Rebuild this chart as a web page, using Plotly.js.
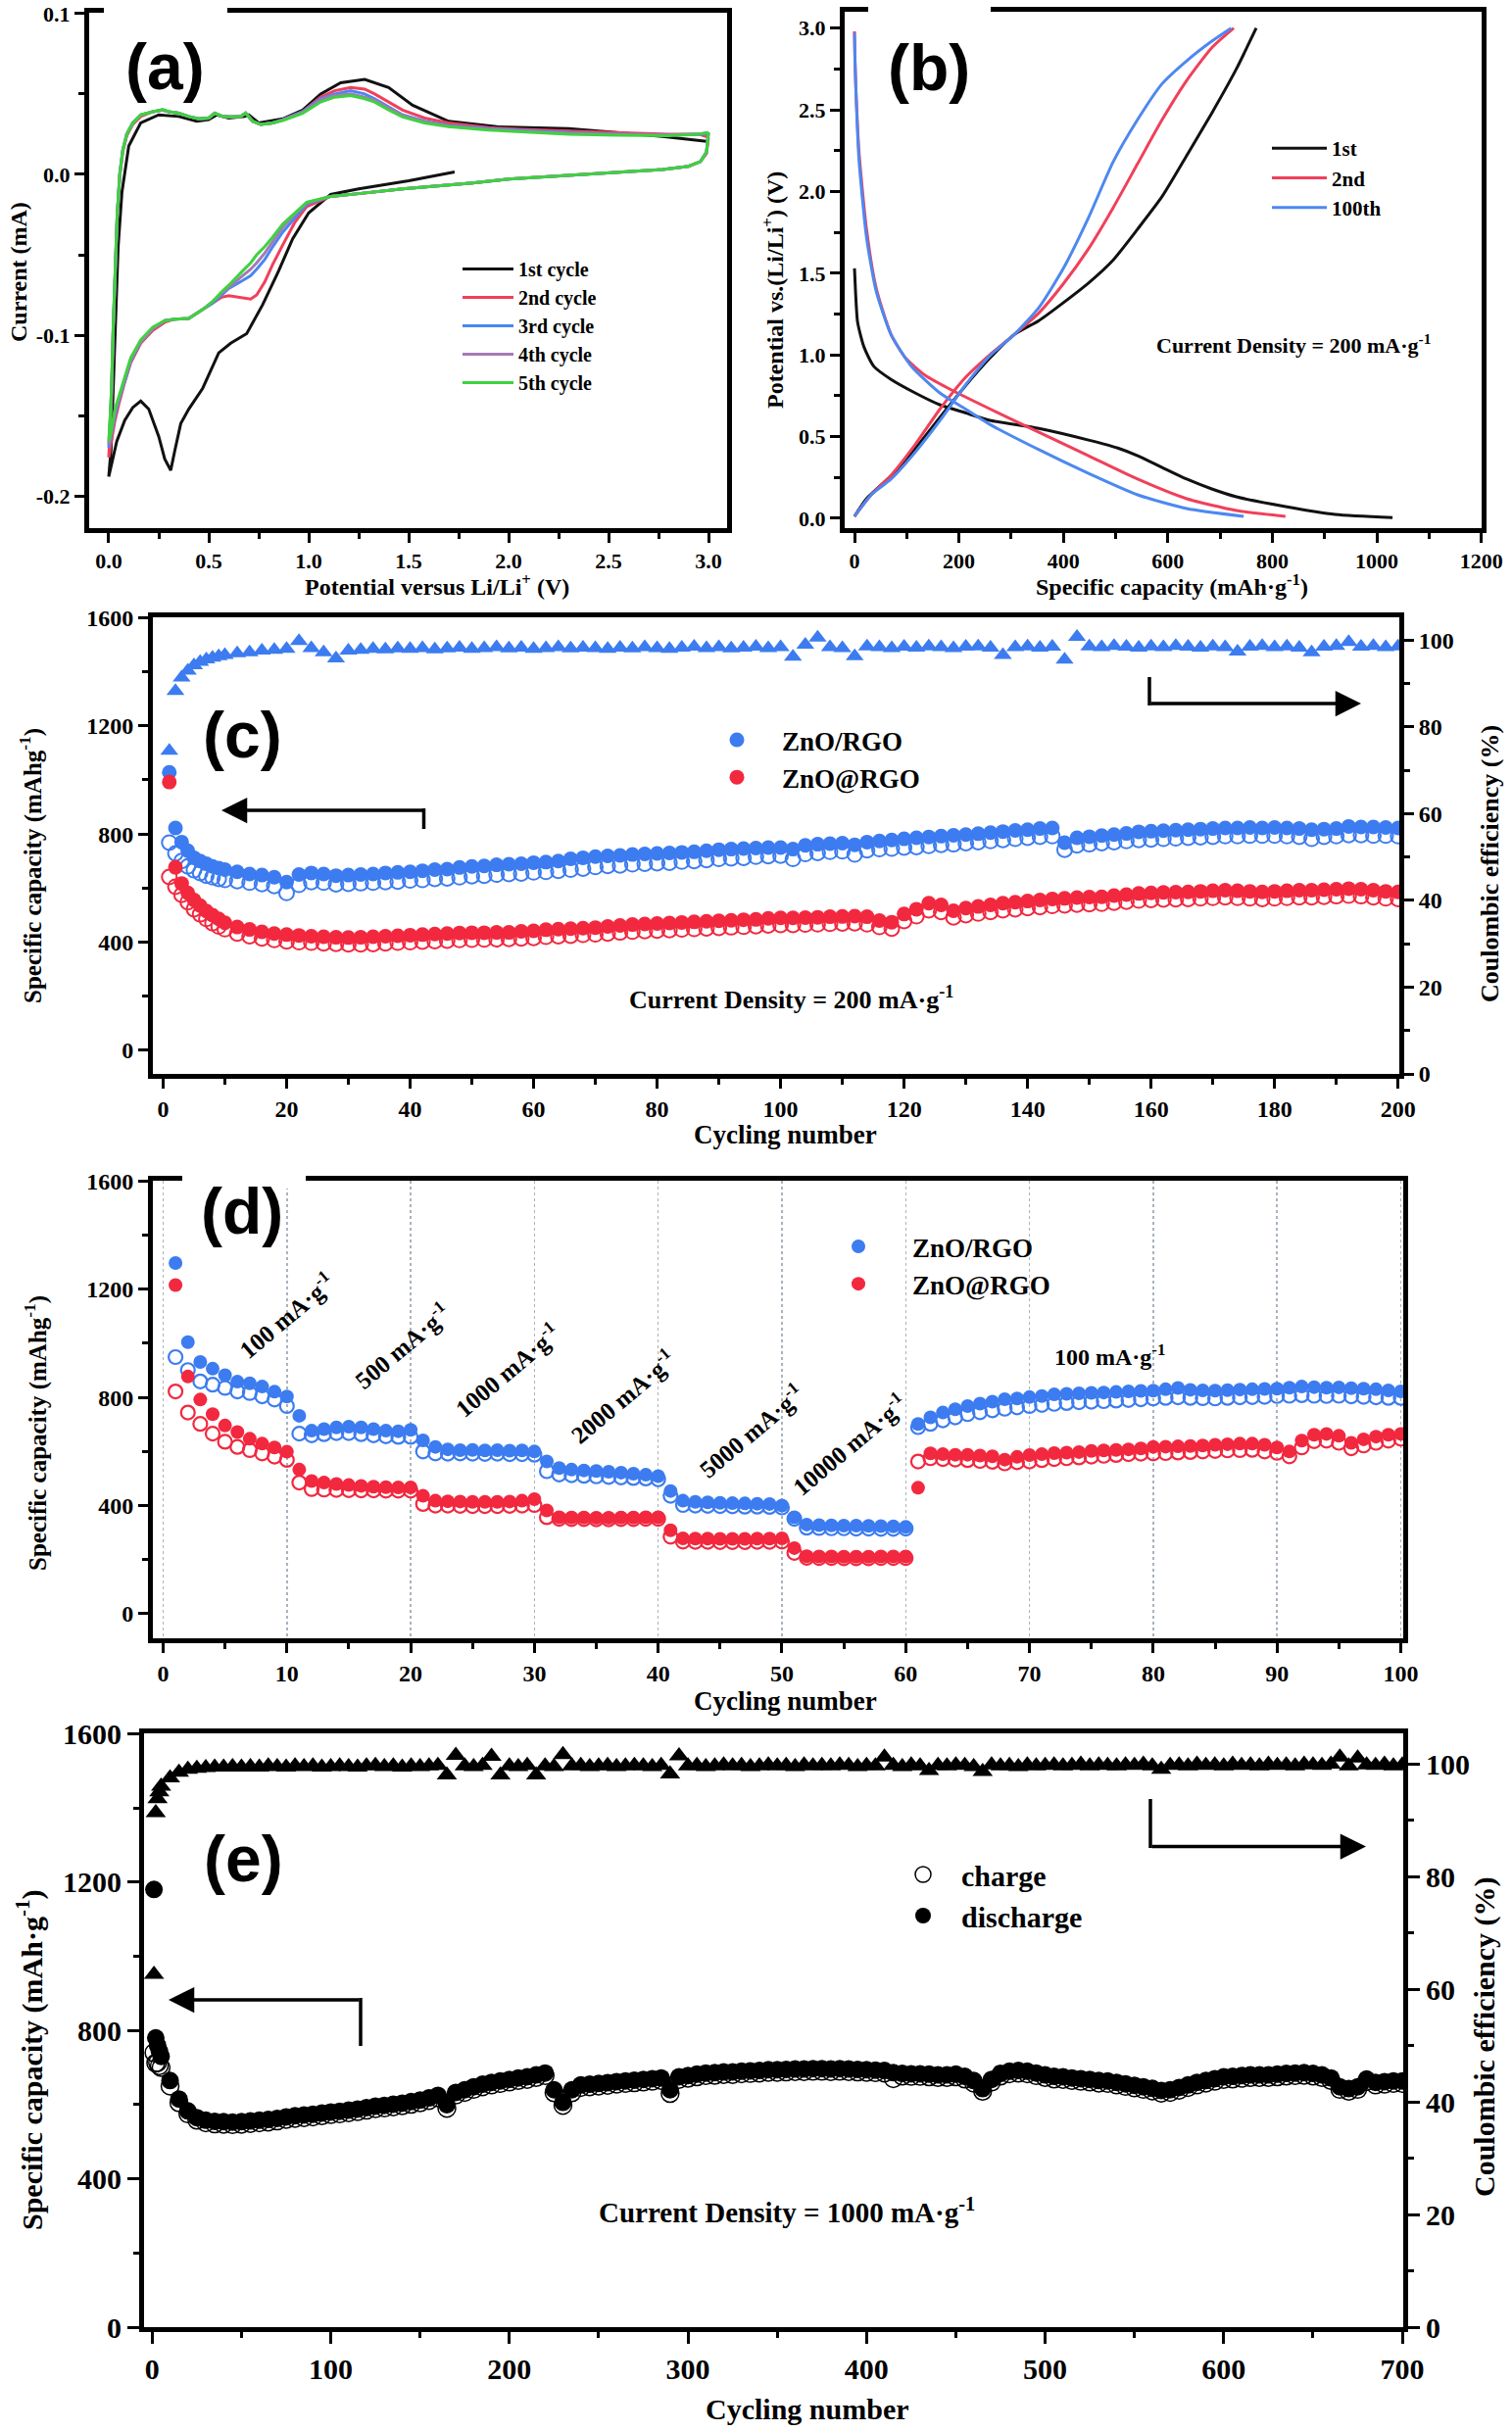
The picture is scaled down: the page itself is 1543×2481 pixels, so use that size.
<!DOCTYPE html>
<html><head><meta charset="utf-8">
<script src="https://cdn.plot.ly/plotly-3.0.1.min.js"></script>
<style>html,body{margin:0;padding:0;background:#fff}#chart{width:1543px;height:2481px}</style>
</head><body><div id="chart"></div>
<script>
// ---------------- Panel (a): cyclic voltammetry ----------------
const cv1X = [1.73,1.50,1.25,1.11,1.00,0.92,0.85,0.77,0.69,0.61,0.55,0.47,0.40,0.36,0.33,0.31,0.28,0.25,0.20,0.16,0.12,0.08,0.04,0.015,0.0,
  0.012,0.025,0.035,0.047,0.066,0.10,0.16,0.25,0.35,0.44,0.50,0.54,0.60,0.68,0.70,0.75,0.87,0.97,1.06,1.16,1.28,1.40,1.52,1.70,1.94,2.30,2.54,2.77,2.99];
const cv1Y = [0.0015,-0.004,-0.009,-0.0125,-0.024,-0.040,-0.060,-0.081,-0.099,-0.105,-0.111,-0.133,-0.146,-0.155,-0.172,-0.184,-0.177,-0.163,-0.146,-0.141,-0.145,-0.153,-0.166,-0.180,-0.188,
  -0.170,-0.120,-0.080,-0.045,-0.011,0.0176,0.032,0.037,0.036,0.033,0.034,0.037,0.035,0.036,0.037,0.032,0.0345,0.040,0.050,0.057,0.059,0.054,0.043,0.033,0.0296,0.0284,0.026,0.0236,0.0205];
const cvX = [3.0,2.99,2.96,2.90,2.77,2.50,2.30,2.00,1.82,1.47,1.25,1.11,0.99,0.93,0.87,0.82,0.78,0.74,0.71,0.67,0.64,0.60,0.565,0.52,0.47,0.40,0.33,0.28,0.22,0.16,0.11,0.078,0.05,0.031,0.01,0.0,
  0.007,0.014,0.022,0.031,0.042,0.055,0.07,0.09,0.12,0.16,0.22,0.27,0.30,0.35,0.40,0.45,0.50,0.53,0.57,0.61,0.66,0.685,0.72,0.76,0.82,0.87,0.97,1.06,1.13,1.21,1.28,1.33,1.40,1.47,1.58,1.70,1.90,2.06,2.30,2.54,2.80,2.95,3.0];
const cv2Y = [0.023,0.013,0.008,0.005,0.003,0.001,-0.0005,-0.003,-0.0053,-0.009,-0.012,-0.0137,-0.020,-0.030,-0.044,-0.056,-0.067,-0.075,-0.0776,-0.077,-0.0765,-0.0755,-0.0764,-0.080,-0.0836,-0.0896,-0.090,-0.092,-0.097,-0.105,-0.117,-0.130,-0.143,-0.153,-0.168,-0.176,
  -0.158,-0.138,-0.098,-0.062,-0.027,-0.001,0.014,0.024,0.031,0.036,0.039,0.040,0.039,0.038,0.036,0.0345,0.035,0.038,0.036,0.0357,0.036,0.038,0.033,0.031,0.032,0.034,0.039,0.048,0.052,0.054,0.053,0.050,0.045,0.040,0.035,0.032,0.029,0.028,0.027,0.026,0.025,0.025,0.023];
const cv3Y = [0.026,0.014,0.008,0.005,0.003,0.001,-0.0005,-0.003,-0.0053,-0.009,-0.012,-0.0137,-0.0185,-0.027,-0.036,-0.045,-0.053,-0.059,-0.063,-0.066,-0.068,-0.071,-0.075,-0.080,-0.084,-0.0896,-0.090,-0.091,-0.096,-0.104,-0.116,-0.129,-0.141,-0.150,-0.165,-0.170,
  -0.154,-0.135,-0.097,-0.061,-0.026,0.0,0.015,0.025,0.032,0.037,0.039,0.040,0.039,0.038,0.036,0.0345,0.035,0.038,0.036,0.0357,0.036,0.038,0.033,0.031,0.032,0.034,0.039,0.047,0.050,0.052,0.050,0.047,0.042,0.037,0.033,0.0305,0.0285,0.0275,0.026,0.025,0.0245,0.025,0.025];
const cv4Y = [0.026,0.014,0.008,0.005,0.003,0.001,-0.0005,-0.003,-0.0053,-0.009,-0.012,-0.0137,-0.0178,-0.025,-0.033,-0.042,-0.049,-0.055,-0.059,-0.063,-0.066,-0.070,-0.074,-0.079,-0.084,-0.0896,-0.090,-0.091,-0.096,-0.104,-0.115,-0.128,-0.140,-0.148,-0.163,-0.168,
  -0.152,-0.134,-0.096,-0.061,-0.026,0.0,0.015,0.025,0.032,0.037,0.039,0.040,0.039,0.038,0.036,0.0345,0.035,0.038,0.036,0.0357,0.036,0.038,0.033,0.031,0.032,0.0338,0.0385,0.046,0.049,0.050,0.048,0.046,0.041,0.0365,0.0325,0.030,0.028,0.027,0.0255,0.0248,0.0245,0.025,0.026];
const cv5Y = [0.026,0.014,0.008,0.005,0.003,0.001,-0.0005,-0.003,-0.0053,-0.009,-0.012,-0.0137,-0.0173,-0.024,-0.031,-0.039,-0.045,-0.050,-0.055,-0.060,-0.064,-0.069,-0.073,-0.079,-0.084,-0.0896,-0.090,-0.091,-0.095,-0.103,-0.114,-0.127,-0.138,-0.146,-0.161,-0.166,
  -0.150,-0.132,-0.095,-0.060,-0.025,0.0007,0.015,0.025,0.032,0.037,0.039,0.0405,0.039,0.038,0.036,0.0345,0.035,0.038,0.036,0.0357,0.036,0.038,0.033,0.031,0.032,0.0335,0.038,0.045,0.048,0.049,0.047,0.045,0.040,0.0357,0.032,0.0296,0.0276,0.0267,0.025,0.0243,0.024,0.025,0.026];
const cvNames = ['1st cycle','2nd cycle','3rd cycle','4th cycle','5th cycle'];
const aTickY = [-0.2,-0.1,0.0,0.1];
const aTickYText = ['-0.2','-0.1','0.0','0.1'];

// ---------------- Panel (b): charge/discharge profiles ----------------
const b1DisX = [0,2,6,18,37,70,117,164,212,259,353,448,504,542,589,636,684,731,825,920,1030];
const b1DisY = [1.53,1.39,1.20,1.05,0.93,0.85,0.766,0.694,0.646,0.60,0.55,0.479,0.43,0.383,0.311,0.24,0.18,0.132,0.072,0.024,0.005];
const b1ChX = [0,23,70,117,164,212,259,306,353,400,448,495,542,589,636,684,731,769];
const b1ChY = [0.012,0.12,0.26,0.43,0.62,0.81,0.98,1.125,1.21,1.32,1.44,1.58,1.77,1.97,2.22,2.48,2.75,3.0];
const b2DisX = [0,1,3,8.5,23,41.5,70,98,136,183,259,353,448,542,636,731,825];
const b2DisY = [2.98,2.80,2.61,2.25,1.77,1.41,1.125,0.98,0.874,0.79,0.67,0.527,0.383,0.24,0.12,0.048,0.012];
const b2ChX = [0,32,70,117,164,212,259,306,353,400,448,495,542,589,636,684,726];
const b2ChY = [0.012,0.144,0.263,0.455,0.67,0.86,1.0,1.125,1.257,1.436,1.65,1.90,2.17,2.44,2.68,2.88,3.0];
const b100DisX = [0,1,3,8.5,23,41.5,70,108,164,212,259,353,448,542,636,745];
const b100DisY = [2.97,2.80,2.59,2.20,1.72,1.39,1.125,0.934,0.766,0.67,0.575,0.42,0.275,0.144,0.06,0.012];
const b100ChX = [0,32,70,117,164,212,259,306,353,400,448,495,542,589,636,684,721];
const b100ChY = [0.012,0.144,0.24,0.407,0.60,0.814,0.994,1.125,1.29,1.53,1.84,2.18,2.44,2.66,2.80,2.92,3.0];
const bNames = ['1st','2nd','100th'];

// ---------------- Panel (c): cycling at 200 mA/g ----------------
const cCyc = [1,2,3,4,5,6,7,8,9,10,12,14,16,18,20,22,24,26,28,30,32,34,36,38,40,42,44,46,48,50,
  52,54,56,58,60,62,64,66,68,70,72,74,76,78,80,82,84,86,88,90,92,94,96,98,100,102,104,106,108,110,
  112,114,116,118,120,122,124,126,128,130,132,134,136,138,140,142,144,146,148,150,152,154,156,158,160,162,164,166,168,170,
  172,174,176,178,180,182,184,186,188,190,192,194,196,198,200];
const cBlueDis = [1028,822,770,738,712,700,690,680,674,668,660,652,648,640,622,650,656,652,646,648,650,652,656,658,660,664,668,670,676,680,
  682,686,688,690,694,696,700,708,712,716,719,721,724,726,728,730,732,734,738,742,744,746,748,750,750,744,758,762,764,766,
  760,770,774,778,782,786,789,792,795,798,801,805,809,813,816,820,822,768,786,790,794,798,802,808,810,812,814,816,818,820,
  822,822,824,822,824,822,820,816,818,820,828,826,826,824,822];
const cBlueCh = [768,728,700,680,666,656,646,640,634,630,626,620,615,608,582,612,622,620,614,616,618,620,622,624,628,630,634,636,640,644,
  646,650,652,654,658,660,664,668,672,678,682,684,688,690,692,694,698,700,704,708,710,712,716,718,720,708,726,730,734,736,
  724,740,744,746,750,752,756,760,762,766,770,774,778,782,786,790,792,742,758,762,766,770,774,778,780,782,784,786,788,790,
  792,792,794,794,794,792,790,782,790,792,796,796,794,794,792];
const cBlueCE = [74.5,88.3,91.4,93.0,94.2,95.0,95.6,96.0,96.3,96.6,97.0,97.2,97.6,97.8,98.0,99.8,98.2,97.2,95.8,97.6,97.8,98.0,97.9,98.1,98.0,98.2,97.9,98.1,98.3,98.0,
  98.2,98.4,98.1,98.3,98.0,98.2,98.4,98.1,98.3,98.2,98.0,98.3,98.1,98.4,98.2,98.0,98.3,98.5,98.2,98.4,98.1,98.3,98.5,98.2,98.4,96.2,99.0,100.6,98.4,98.2,
  96.3,98.6,98.4,98.2,98.5,98.3,98.6,98.4,98.2,98.5,98.6,98.3,96.6,98.4,98.6,98.3,98.5,95.5,100.8,98.6,98.4,98.7,98.5,98.3,98.6,98.4,98.7,98.5,98.3,98.6,
  98.4,97.4,98.5,98.7,98.4,98.6,98.3,97.2,98.5,98.7,99.6,98.5,98.7,98.4,98.6];
const cRedDis = [992,677,617,582,556,535,515,500,486,472,456,447,438,432,428,425,422,420,418,417,418,420,422,424,426,428,430,432,434,435,
  435,436,436,440,442,446,448,450,452,454,458,462,465,467,469,471,473,475,477,479,481,483,484,488,490,490,491,492,494,495,
  496,494,480,474,504,522,544,538,516,526,532,538,544,548,552,556,560,562,565,567,568,572,576,580,582,584,585,586,588,590,
  592,590,588,586,588,590,592,592,594,596,598,596,592,588,586];
const cRedCh = [641,605,575,548,522,503,486,470,458,448,432,422,414,408,403,400,398,396,394,392,392,393,396,398,400,402,404,406,408,409,
  410,411,412,414,416,420,422,424,427,429,432,436,439,441,443,445,447,449,451,453,455,457,459,462,464,464,465,466,468,469,
  470,466,456,450,478,496,518,512,492,500,506,512,518,522,526,530,534,536,539,541,542,546,550,554,556,558,559,560,562,564,
  566,564,562,560,562,564,566,566,568,570,572,570,566,562,560];
const cNames = ['ZnO/RGO','ZnO@RGO'];

// ---------------- Panel (d): rate capability ----------------
const dCyc = [1,2,3,4,5,6,7,8,9,10,11,12,13,14,15,16,17,18,19,20,21,22,23,24,25,26,27,28,29,30,
  31,32,33,34,35,36,37,38,39,40,41,42,43,44,45,46,47,48,49,50,51,52,53,54,55,56,57,58,59,60,
  61,62,63,64,65,66,67,68,69,70,71,72,73,74,75,76,77,78,79,80,81,82,83,84,85,86,87,88,89,90,
  91,92,93,94,95,96,97,98,99,100];
const dBlueDis = [1297,1004,931,906,882,858,852,840,821,803,732,677,683,689,692,689,683,677,675,680,
  641,617,608,605,606,604,605,603,604,600,563,539,533,530,528,525,522,518,514,509,
  454,418,414,412,410,409,408,407,406,400,357,330,328,327,326,326,325,324,323,321,
  702,726,744,756,768,777,784,793,796,801,805,811,813,815,817,818,820,822,824,825,
  830,835,828,826,825,827,829,830,831,832,836,840,838,836,837,834,832,830,826,822];
const dBlueCh = [949,901,859,847,835,822,816,804,792,768,666,660,664,668,668,664,660,656,654,654,
  600,593,592,593,592,591,592,590,590,588,527,515,512,510,508,506,504,502,500,497,
  436,402,400,399,398,397,396,396,395,393,351,318,317,316,316,315,315,314,314,315,
  690,702,715,726,738,745,752,758,763,768,772,776,779,782,784,786,788,790,793,796,
  798,800,798,797,796,798,800,801,802,805,806,808,806,805,806,804,802,800,798,798];
const dRedDis = [1215,877,792,738,696,672,647,629,615,599,533,491,485,480,476,473,470,468,467,467,
  436,418,416,415,414,414,414,415,418,424,382,357,356,356,355,355,356,356,357,357,
  309,279,278,278,277,277,277,278,278,279,243,213,212,212,211,211,211,212,212,212,
  466,593,590,588,588,585,582,570,580,587,590,594,596,598,602,604,606,608,611,617,
  618,619,620,622,625,627,629,629,625,615,600,640,662,665,658,632,645,655,662,665];
const dRedCh = [822,744,702,666,636,617,605,593,581,569,485,461,459,458,457,456,456,455,455,455,
  406,400,400,399,398,398,398,399,400,402,357,351,350,350,349,349,350,350,351,351,
  285,267,266,266,265,265,265,266,266,267,225,207,206,206,205,205,205,206,206,206,
  563,575,572,570,568,565,562,556,560,563,568,572,575,578,581,584,587,590,592,593,
  594,596,598,600,602,604,605,606,600,595,582,615,638,640,632,612,622,632,640,647];
const dRateLabels = ['100 mA·g<sup>-1</sup>','500 mA·g<sup>-1</sup>','1000 mA·g<sup>-1</sup>','2000 mA·g<sup>-1</sup>','5000 mA·g<sup>-1</sup>','10000 mA·g<sup>-1</sup>'];

// ---------------- Panel (e): long cycling at 1000 mA/g ----------------
const eCyc = [1,2,3,4,
  5,10,15,20,25,30,35,40,45,50, 55,60,65,70,75,80,85,90,95,100,
  105,110,115,120,125,130,135,140,145,150, 155,160,165,170,175,180,185,190,195,200,
  205,210,215,220,225,230,235,240,245,250, 255,260,265,270,275,280,285,290,295,300,
  305,310,315,320,325,330,335,340,345,350, 355,360,365,370,375,380,385,390,395,400,
  405,410,415,420,425,430,435,440,445,450, 455,460,465,470,475,480,485,490,495,500,
  505,510,515,520,525,530,535,540,545,550, 555,560,565,570,575,580,585,590,595,600,
  605,610,615,620,625,630,635,640,645,650, 655,660,665,670,675,680,685,690,695,700];
const eDis = [1180,780,760,745,
  730,665,615,583,565,558,555,554,553,554, 556,558,560,563,567,570,572,574,577,580,
  582,585,588,592,596,598,601,604,608,612, 618,625,600,633,640,648,655,660,664,668,
  672,675,680,685,640,606,640,653,655,657, 659,662,664,666,668,670,672,640,675,678,
  682,685,686,688,688,690,691,692,694,694, 695,696,696,697,697,696,697,696,695,694,
  693,692,686,684,683,683,682,680,680,682, 676,665,643,668,684,690,692,690,685,680,
  676,675,672,670,668,665,664,660,656,652, 648,644,638,640,646,653,660,665,670,675,
  676,678,680,680,680,682,684,685,686,684, 680,672,648,643,648,669,660,662,664,664];
const eCh = [740,712,713,705,
  700,650,605,575,558,551,548,547,546,547, 549,551,553,556,560,563,565,567,570,573,
  575,578,581,585,589,591,594,597,601,605, 611,618,590,626,633,641,648,653,657,661,
  665,668,673,678,632,598,632,646,648,650, 652,655,657,659,661,663,665,630,668,671,
  675,678,679,681,681,683,684,685,687,687, 688,689,689,690,690,689,690,689,688,687,
  686,685,670,677,676,676,675,673,673,675, 669,658,636,661,677,683,685,683,678,673,
  669,668,665,663,661,658,657,653,649,645, 641,637,631,633,639,646,653,658,663,668,
  669,671,673,673,673,675,677,678,679,677, 673,665,641,636,641,662,653,655,657,657];
const eCE = [62.6,91.3,93.8,95.0,
  96.0,97.5,98.5,99.0,99.2,99.3,99.4,99.4,99.5,99.4, 99.5,99.4,99.6,99.5,99.4,99.6,99.5,99.6,99.4,99.5,
  99.6,99.5,99.4,99.6,99.7,99.5,99.6,99.4,99.6,99.5, 99.6,99.7,98.0,101.5,99.6,99.5,99.7,101.3,98.0,99.6,
  99.5,99.7,98.0,99.6,99.5,101.6,99.6,99.7,99.5,99.6, 99.7,99.5,99.6,99.7,99.6,99.5,99.7,98.2,101.4,99.6,
  99.7,99.5,99.6,99.8,99.6,99.7,99.5,99.6,99.8,99.6, 99.7,99.5,99.8,99.6,99.7,99.6,99.8,99.7,99.5,99.7,
  99.6,101.2,99.7,99.5,99.8,99.6,98.8,99.7,99.6,99.8, 99.7,99.5,98.6,99.8,99.6,99.7,99.5,99.8,99.6,99.7,
  99.8,99.6,99.7,99.9,99.6,99.8,99.7,99.6,99.8,99.7, 99.9,99.6,99.0,99.7,99.8,99.6,99.9,99.7,99.8,99.6,
  99.9,99.7,99.8,99.6,99.9,99.7,99.8,99.6,99.9,99.8, 99.7,99.9,101.2,99.6,101.0,99.8,99.7,99.9,99.6,99.8];
const eNames = ['charge','discharge'];

// ---------------- styling helpers ----------------
const W = 1543, H = 2481;
const fx = v => v / W;
const fy = v => 1 - v / H;
const SERIF = '"Liberation Serif","Times New Roman",serif';
const SANS = '"Liberation Sans",Arial,sans-serif';
const BLUE = '#3c7cf0', RED = '#f2283f';
const CVCOL = ['#111111','#f0405a','#4a86f2','#a37ab5','#3fd23f'];
const BCOL = ['#111111','#f0405a','#4d88f0'];

function axis(o, fs){
  return Object.assign({
    showline:true, linewidth:5, linecolor:'#000', mirror:true,
    ticks:'outside', ticklen:10, tickwidth:3, tickcolor:'#000',
    showgrid:false, zeroline:false, fixedrange:true,
    tickfont:{family:SERIF, size:fs||22, color:'#000', weight:'bold'}
  }, o);
}
function minor(d){ return {tickmode:'linear', tick0:0, dtick:d, ticks:'outside', ticklen:6, tickwidth:3, tickcolor:'#000', showgrid:false}; }
function txt(text, x, y, size, extra){
  return Object.assign({text:text, xref:'paper', yref:'paper', x:fx(x), y:fy(y), xanchor:'center', yanchor:'middle',
    showarrow:false, font:{family:SERIF, size:size, color:'#000', weight:'bold'}}, extra||{});
}
function label(t, x, y){ return txt(t, x, y, 66, {font:{family:SANS, size:66, color:'#000', weight:'bold'}}); }
function arrow(tipX, tipY, tailX, tailY){
  return {xref:'paper', yref:'paper', x:fx(tipX), y:fy(tipY), ax:tailX-tipX, ay:tailY-tipY, axref:'pixel', ayref:'pixel',
    showarrow:true, arrowhead:2, arrowsize:1.5, arrowwidth:3.5, arrowcolor:'#000', text:''};
}
function vline(x, y0, y1){ return {type:'line', xref:'paper', yref:'paper', x0:fx(x), x1:fx(x), y0:fy(y0), y1:fy(y1), line:{color:'#000', width:3.5}, layer:'above'}; }
function gap(x0, x1, y0, y1){ return {type:'rect', xref:'paper', yref:'paper', x0:fx(x0), x1:fx(x1), y0:fy(y1), y1:fy(y0), fillcolor:'#ffffff', line:{width:0}, layer:'above'}; }
function legendBox(x, y, size, iw){
  return {x:fx(x), y:fy(y), xanchor:'left', yanchor:'top', bgcolor:'rgba(0,0,0,0)', borderwidth:0,
    font:{family:SERIF, size:size, color:'#000', weight:'bold'}, itemwidth:iw, tracegroupgap:0, itemclick:false};
}

// ---------------- traces ----------------
const traces = [];
// (a)
traces.push({x:cv1X, y:cv1Y, name:cvNames[0], xaxis:'x', yaxis:'y', mode:'lines', line:{color:CVCOL[0], width:3}, legend:'legend'});
[cv2Y, cv3Y, cv4Y, cv5Y].forEach((yy, i) => {
  traces.push({x:cvX, y:yy, name:cvNames[i+1], xaxis:'x', yaxis:'y', mode:'lines', line:{color:CVCOL[i+1], width:3}, legend:'legend'});
});
// (b)
[[b1DisX,b1DisY,b1ChX,b1ChY],[b2DisX,b2DisY,b2ChX,b2ChY],[b100DisX,b100DisY,b100ChX,b100ChY]].forEach((s, i) => {
  traces.push({x:s[0], y:s[1], name:bNames[i], xaxis:'x2', yaxis:'y2', mode:'lines', line:{color:BCOL[i], width:3, shape:'spline', smoothing:0.6}, legend:'legend2', legendgroup:'b'+i});
  traces.push({x:s[2], y:s[3], name:bNames[i], xaxis:'x2', yaxis:'y2', mode:'lines', line:{color:BCOL[i], width:3, shape:'spline', smoothing:0.6}, legend:'legend2', legendgroup:'b'+i, showlegend:false});
});
// (c)
traces.push({x:cCyc, y:cBlueCE, xaxis:'x3', yaxis:'y4', mode:'markers', marker:{symbol:'triangle-up', size:16, color:BLUE}, showlegend:false});
traces.push({x:cCyc, y:cBlueCh, xaxis:'x3', yaxis:'y3', mode:'markers', marker:{symbol:'circle-open', size:15, color:BLUE, line:{width:2, color:BLUE}}, showlegend:false});
traces.push({x:cCyc, y:cBlueDis, name:cNames[0], xaxis:'x3', yaxis:'y3', mode:'markers', marker:{symbol:'circle', size:15, color:BLUE}, legend:'legend3'});
traces.push({x:cCyc, y:cRedCh, xaxis:'x3', yaxis:'y3', mode:'markers', marker:{symbol:'circle-open', size:15, color:RED, line:{width:2, color:RED}}, showlegend:false});
traces.push({x:cCyc, y:cRedDis, name:cNames[1], xaxis:'x3', yaxis:'y3', mode:'markers', marker:{symbol:'circle', size:15, color:RED}, legend:'legend3'});
// (d)
traces.push({x:dCyc, y:dBlueCh, xaxis:'x4', yaxis:'y5', mode:'markers', marker:{symbol:'circle-open', size:14, color:BLUE, line:{width:2.2, color:BLUE}}, showlegend:false});
traces.push({x:dCyc, y:dBlueDis, name:cNames[0], xaxis:'x4', yaxis:'y5', mode:'markers', marker:{symbol:'circle', size:14, color:BLUE}, legend:'legend4'});
traces.push({x:dCyc, y:dRedCh, xaxis:'x4', yaxis:'y5', mode:'markers', marker:{symbol:'circle-open', size:14, color:RED, line:{width:2.2, color:RED}}, showlegend:false});
traces.push({x:dCyc, y:dRedDis, name:cNames[1], xaxis:'x4', yaxis:'y5', mode:'markers', marker:{symbol:'circle', size:14, color:RED}, legend:'legend4'});
// (e)
traces.push({x:eCyc, y:eCE, xaxis:'x5', yaxis:'y7', mode:'markers', marker:{symbol:'triangle-up', size:18, color:'#000'}, showlegend:false});
traces.push({x:eCyc, y:eCh, name:eNames[0], xaxis:'x5', yaxis:'y6', mode:'markers', marker:{symbol:'circle-open', size:18, color:'#000', line:{width:1.5, color:'#000'}}, legend:'legend5'});
traces.push({x:eCyc, y:eDis, name:eNames[1], xaxis:'x5', yaxis:'y6', mode:'markers', marker:{symbol:'circle', size:18, color:'#000'}, legend:'legend5'});

// ---------------- layout ----------------
const layout = {
  width:W, height:H, margin:{l:0, r:0, t:0, b:0, pad:0},
  paper_bgcolor:'#fff', plot_bgcolor:'rgba(0,0,0,0)', hovermode:false, showlegend:true,
  // (a)
  xaxis: axis({domain:[fx(91), fx(742)], anchor:'y', range:[-0.098, 3.093], tickmode:'linear', tick0:0, dtick:0.5, tickformat:'.1f', minor:minor(0.25)}),
  yaxis: axis({domain:[fy(539), fy(13)], anchor:'x', range:[-0.22, 0.1005], tickmode:'array', tickvals:aTickY, ticktext:aTickYText, minor:minor(0.05)}),
  // (b)
  xaxis2: axis({domain:[fx(862), fx(1512)], anchor:'y2', range:[-18.75, 1200.5], tickmode:'linear', tick0:0, dtick:200, minor:minor(100)}),
  yaxis2: axis({domain:[fy(539), fy(12)], anchor:'x2', range:[-0.06, 3.1], tickmode:'linear', tick0:0, dtick:0.5, tickformat:'.1f', minor:minor(0.25)}),
  // (c)
  xaxis3: axis({domain:[fx(156), fx(1428)], anchor:'y3', range:[-1.66, 200.2], tickmode:'linear', tick0:0, dtick:20, minor:minor(10)}, 24),
  yaxis3: axis({domain:[fy(1096), fy(630)], anchor:'x3', range:[-87, 1601], tickmode:'linear', tick0:0, dtick:400, minor:minor(200)}, 24),
  yaxis4: axis({overlaying:'y3', side:'right', anchor:'x3', mirror:false, range:[0, 105.3], tickmode:'linear', tick0:0, dtick:20, minor:minor(10)}, 24),
  // (d)
  xaxis4: axis({domain:[fx(156), fx(1432)], anchor:'y5', range:[-0.83, 100.2], tickmode:'linear', tick0:0, dtick:10, minor:minor(5),
    showgrid:true, gridcolor:'#a9b3bd', gridwidth:1.5, griddash:'3px,3px'}, 24),
  yaxis5: axis({domain:[fy(1672), fy(1205)], anchor:'x4', range:[-90.6, 1601], tickmode:'linear', tick0:0, dtick:400, minor:minor(200)}, 24),
  // (e)
  xaxis5: axis({domain:[fx(147), fx(1432)], anchor:'y6', range:[-4.55, 700.5], tickmode:'linear', tick0:0, dtick:100, minor:minor(50), ticklen:12}, 30),
  yaxis6: axis({domain:[fy(2375), fy(1769)], anchor:'x5', range:[0, 1601], tickmode:'linear', tick0:0, dtick:400, minor:minor(200), ticklen:12}, 30),
  yaxis7: axis({overlaying:'y6', side:'right', anchor:'x5', mirror:false, range:[0, 105.4], tickmode:'linear', tick0:0, dtick:20, minor:minor(10), ticklen:12}, 30),
  legend: legendBox(467, 255, 20, 52),
  legend2: legendBox(1293, 131, 21, 56),
  legend3: legendBox(706, 731, 27, 82),
  legend4: legendBox(821, 1248, 27, 100),
  legend5: legendBox(903, 1887, 30, 68),
  shapes: [
    gap(106, 232, 4, 21), gap(886, 1011, 4, 20), gap(186, 312, 1196, 1213),
    vline(432.5, 825, 846), vline(1173, 691, 720), vline(368, 2039, 2088), vline(1174, 1836, 1886)
  ],
  annotations: [
    label('(a)', 168, 68), label('(b)', 948, 69), label('(c)', 247, 750), label('(d)', 247, 1236), label('(e)', 248, 1897),
    // axis titles
    txt('Potential versus Li/Li<sup>+</sup> (V)', 446, 597, 24),
    txt('Current (mA)', 19, 278, 24, {textangle:-90}),
    txt('Specific capacity (mAh·g<sup>-1</sup>)', 1196, 597, 24),
    txt('Potential vs.(Li/Li<sup>+</sup>) (V)', 789, 296, 24, {textangle:-90}),
    txt('Cycling number', 801, 1158, 27),
    txt('Specific capacity (mAhg<sup>-1</sup>)', 31, 884, 25, {textangle:-90}),
    txt('Coulombic efficiency (%)', 1520, 882, 26, {textangle:-90}),
    txt('Cycling number', 801, 1736, 27),
    txt('Specific capacity (mAhg<sup>-1</sup>)', 36, 1463, 25, {textangle:-90}),
    txt('Cycling number', 824, 2458, 30),
    txt('Specific capacity (mAh·g<sup>-1</sup>)', 30, 2103, 30, {textangle:-90}),
    txt('Coulombic efficiency (%)', 1515, 2079, 30, {textangle:-90}),
    // in-plot notes
    txt('Current Density = 200 mA·g<sup>-1</sup>', 1320, 351, 22),
    txt('Current Density = 200 mA·g<sup>-1</sup>', 807, 1018, 26),
    txt('Current Density = 1000 mA·g<sup>-1</sup>', 803, 2256, 29),
    txt(dRateLabels[0], 292, 1342, 25, {textangle:-40}),
    txt(dRateLabels[1], 410, 1373, 25, {textangle:-40}),
    txt(dRateLabels[2], 517, 1398, 25, {textangle:-40}),
    txt(dRateLabels[3], 635, 1425, 25, {textangle:-40}),
    txt(dRateLabels[4], 766, 1460, 25, {textangle:-40}),
    txt(dRateLabels[5], 866, 1474, 25, {textangle:-40}),
    txt(dRateLabels[0], 1132, 1383, 24),
    // arrows
    arrow(226, 827, 432.5, 827), arrow(1389, 718, 1173, 718),
    arrow(172, 2041, 368, 2041), arrow(1394, 1884.5, 1174, 1884.5)
  ]
};

Plotly.newPlot('chart', traces, layout, {staticPlot:true, displayModeBar:false});
</script></body></html>
